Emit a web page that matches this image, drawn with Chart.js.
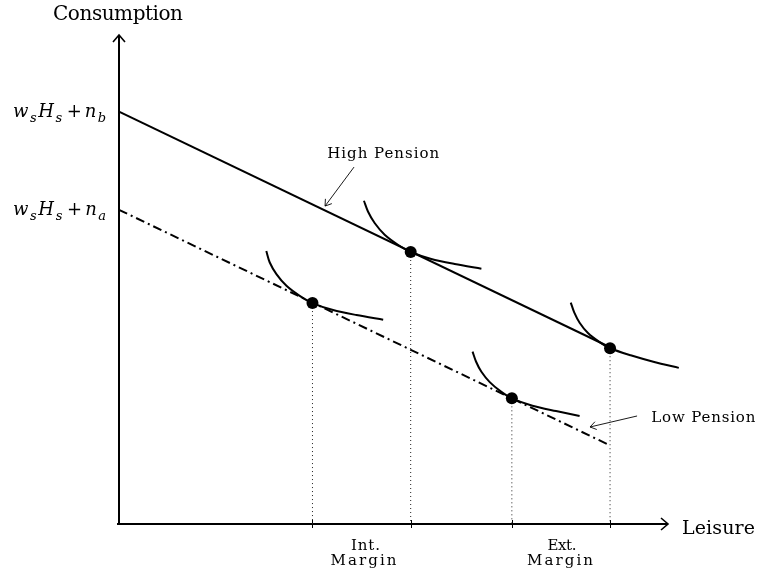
<!DOCTYPE html>
<html>
<head>
<meta charset="utf-8">
<script src="https://cdn.jsdelivr.net/npm/chart.js@4.4.0/dist/chart.umd.min.js"></script>
<style>
  html, body { margin: 0; padding: 0; background: #fff; }
  canvas { display: block; }
</style>
</head>
<body>
<canvas id="grafico" width="757" height="573"></canvas>
<script>
// Ejes
const axisTitles = ['Leisure', 'Consumption'];
const xMax = 5.59;
const yMax = 4.98;

// Rectas presupuestarias
const budgetX = [0, 5];
const highPension = [4.2, 1.8];
const lowPension = [3.2, 0.8];

// Puntos optimos (tangencias)
const optimaX = [1.97, 2.97, 4.0, 5.0];
const optimaY = [2.25, 2.77, 1.28, 1.79];

// Curvas de indiferencia
const icLowInt = [[1.50, 2.78], [1.535, 2.663], [1.603, 2.545], [1.705, 2.426], [1.84, 2.324], [1.97, 2.25], [2.18, 2.179], [2.418, 2.128], [2.69, 2.08]];
const icHighInt = [[2.494, 3.292], [2.535, 3.183], [2.603, 3.065], [2.705, 2.946], [2.84, 2.844], [2.97, 2.77], [3.18, 2.699], [3.418, 2.648], [3.69, 2.60]];
const icLowExt = [[3.60, 1.755], [3.635, 1.655], [3.69, 1.55], [3.775, 1.445], [3.89, 1.348], [4.0, 1.28], [4.21, 1.205], [4.45, 1.15], [4.69, 1.10]];
const icHighExt = [[4.60, 2.255], [4.635, 2.155], [4.69, 2.05], [4.775, 1.945], [4.89, 1.855], [5.0, 1.79], [5.21, 1.718], [5.45, 1.65], [5.70, 1.59]];

// Etiquetas
const yTickValues = [4.2, 3.2];
const yTickLabels = ['w_s H_s + n_b', 'w_s H_s + n_a'];
const marginX = [2.5, 4.5];
const marginLabels = [['Int.', 'Margin'], ['Ext.', 'Margin']];
const notes = ['High Pension', 'Low Pension'];

const serif = '"DejaVu Serif", serif';
const toPoints = (xs, ys) => xs.map((x, i) => ({ x, y: ys[i] }));
const pairs = arr => arr.map(([x, y]) => ({ x, y }));

function arrowHead(ctx, x0, y0, x1, y1, len, half) {
    const a = Math.atan2(y1 - y0, x1 - x0);
    ctx.beginPath();
    ctx.moveTo(x1 - len * Math.cos(a) + half * Math.sin(a), y1 - len * Math.sin(a) - half * Math.cos(a));
    ctx.lineTo(x1, y1);
    ctx.lineTo(x1 - len * Math.cos(a) - half * Math.sin(a), y1 - len * Math.sin(a) + half * Math.cos(a));
    ctx.stroke();
}

// texto ensanchado hasta un ancho dado (la fuente original es muy ancha)
function fitText(ctx, text, x, base, size, width, align) {
    ctx.font = `${size}px ${serif}`;
    ctx.letterSpacing = '0px';
    const w = ctx.measureText(text).width;
    const ls = (width - w) / Math.max(text.length - 1, 1);
    ctx.letterSpacing = ls + 'px';
    ctx.textAlign = 'left';
    ctx.textBaseline = 'alphabetic';
    const left = align === 'center' ? x - width / 2 : x;
    ctx.fillText(text, left, base);
    ctx.letterSpacing = '0px';
}

// texto matematico sencillo: "w_s H_s + n_b"
function drawMath(ctx, str, right, base, size, width) {
    const segs = [];
    str.split(' ').forEach(tok => {
        if (tok === '+') { segs.push({ t: '+', f: `${size}px ${serif}`, dy: 0, pad: true }); return; }
        const [b, sub] = tok.split('_');
        segs.push({ t: b, f: `italic ${size}px ${serif}`, dy: 0 });
        if (sub) segs.push({ t: sub, f: `italic ${Math.round(size * 0.7)}px ${serif}`, dy: Math.round(size * 0.25) });
    });
    let w = 0;
    ctx.letterSpacing = '0px';
    segs.forEach(s => { ctx.font = s.f; s.w = ctx.measureText(s.t).width; w += s.w; });
    const gap = (width - w) / (segs.length - 1);
    let x = right - width;
    ctx.textAlign = 'left';
    ctx.textBaseline = 'alphabetic';
    segs.forEach(s => {
        ctx.font = s.f;
        ctx.fillText(s.t, x + (s.pad ? gap * 1.2 : 0), base + s.dy);
        x += s.w + (s.pad ? gap * 2.4 : gap * 0.65);
    });
}

const diagramPlugin = {
    id: 'diagram',
    beforeDatasetsDraw(chart) {
        const { ctx, scales: { x, y } } = chart;
        const x0 = x.getPixelForValue(0), y0 = y.getPixelForValue(0);
        const xe = x.getPixelForValue(xMax), ye = y.getPixelForValue(yMax);
        ctx.save();
        ctx.strokeStyle = '#000';
        ctx.lineWidth = 2;
        ctx.beginPath();
        ctx.moveTo(x0 - 2, y0); ctx.lineTo(xe, y0);
        ctx.moveTo(x0, y0); ctx.lineTo(x0, ye);
        ctx.stroke();
        ctx.lineWidth = 1.6;
        arrowHead(ctx, x0, y0, xe, y0, 7, 6);
        arrowHead(ctx, x0, y0, x0, ye, 7, 6);
        ctx.lineWidth = 1;
        optimaX.forEach(v => {
            const px = Math.round(x.getPixelForValue(v)) + 0.5;
            ctx.beginPath(); ctx.moveTo(px, y0 - 4); ctx.lineTo(px, y0 + 4); ctx.stroke();
        });
        ctx.restore();
    },
    afterDatasetsDraw(chart) {
        const { ctx, chartArea, scales: { x, y } } = chart;
        ctx.save();
        ctx.fillStyle = '#000';
        ctx.strokeStyle = '#000';

        // titulos de ejes
        fitText(ctx, axisTitles[1], x.getPixelForValue(0) - 1, chartArea.top - 15, 20, 130, 'center');
        fitText(ctx, axisTitles[0], chartArea.right + 14, y.getPixelForValue(0) + 10, 19, 73, 'left');

        // etiquetas del eje y
        yTickValues.forEach((v, i) => drawMath(ctx, yTickLabels[i], x.getPixelForValue(0) - 12, y.getPixelForValue(v) + 5, 18, 94));

        // etiquetas de margen
        marginX.forEach((v, i) => {
            const cx = x.getPixelForValue(v);
            fitText(ctx, marginLabels[i][0], cx + 1, chartArea.bottom + 26, 15, 29, 'center');
            fitText(ctx, marginLabels[i][1], cx - 1, chartArea.bottom + 41, 15, 66, 'center');
        });

        // notas con flecha
        fitText(ctx, notes[0], x.getPixelForValue(2.69), y.getPixelForValue(3.73), 15, 112, 'center');
        fitText(ctx, notes[1], x.getPixelForValue(5.42), y.getPixelForValue(1.04), 15, 104, 'left');

        ctx.lineWidth = 0.9;
        [[2.393, 3.635, 2.098, 3.238], [5.275, 1.10, 4.796, 0.988]].forEach(([a, b, c, d]) => {
            const px0 = x.getPixelForValue(a), py0 = y.getPixelForValue(b);
            const px1 = x.getPixelForValue(c), py1 = y.getPixelForValue(d);
            ctx.beginPath(); ctx.moveTo(px0, py0); ctx.lineTo(px1, py1); ctx.stroke();
            arrowHead(ctx, px0, py0, px1, py1, 6, 4);
        });
        ctx.restore();
    }
};

const curve = pts => ({
    data: pairs(pts),
    showLine: true,
    borderColor: '#000',
    borderWidth: 2,
    pointRadius: 0,
    tension: 0.3,
    clip: false,
    order: 2
});

const datasets = [
    { data: toPoints(optimaX, optimaY), showLine: false, pointRadius: 6, backgroundColor: '#000', borderWidth: 0, clip: false, order: 0 },
    { data: toPoints(budgetX, highPension), showLine: true, borderColor: '#000', borderWidth: 2, pointRadius: 0, clip: false, order: 3 },
    { data: toPoints(budgetX, lowPension), showLine: true, borderColor: '#000', borderWidth: 2, borderDash: [9, 4, 2, 4], pointRadius: 0, clip: false, order: 3 },
    curve(icLowInt), curve(icHighInt), curve(icLowExt), curve(icHighExt)
];

optimaX.forEach((v, i) => {
    datasets.push({
        data: [{ x: v, y: optimaY[i] }, { x: v, y: 0 }],
        showLine: true,
        borderColor: '#222',
        borderWidth: 1,
        borderDash: [1, 3],
        pointRadius: 0,
        order: 5
    });
});

new Chart(document.getElementById('grafico'), {
    type: 'scatter',
    data: { datasets },
    options: {
        responsive: false,
        animation: false,
        events: [],
        layout: { padding: { left: 119, right: 89, top: 35, bottom: 49 } },
        scales: {
            x: { type: 'linear', min: 0, max: xMax, display: false },
            y: { type: 'linear', min: 0, max: yMax, display: false }
        },
        plugins: { legend: { display: false }, tooltip: { enabled: false } }
    },
    plugins: [diagramPlugin]
});
</script>
</body>
</html>
